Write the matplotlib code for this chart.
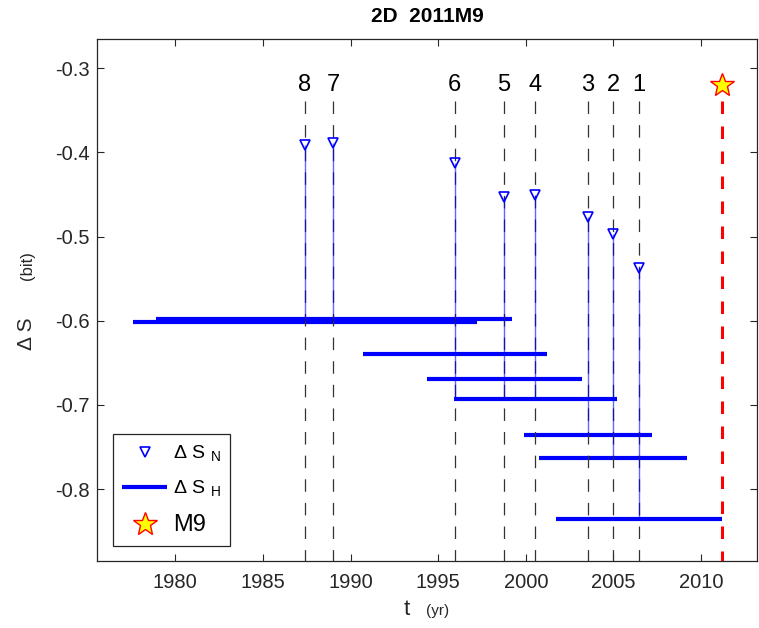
import matplotlib
matplotlib.use('Agg')
import matplotlib.pyplot as plt
from matplotlib.lines import Line2D

plt.rcParams['font.family'] = ['Liberation Sans', 'DejaVu Sans']
plt.rcParams['mathtext.fontset'] = 'custom'
plt.rcParams['mathtext.rm'] = 'Liberation Sans'
plt.rcParams['lines.scale_dashes'] = False

# precursor events, numbered back from the most recent one
event_ids = ['1', '2', '3', '4', '5', '6', '7', '8']
event_t = [2006.45, 2004.98, 2003.55, 2000.55, 1998.76, 1995.94, 1989.01, 1987.40]
dS_N = [-0.537, -0.4967, -0.4762, -0.450, -0.4528, -0.413, -0.389, -0.391]
stem_base = [-0.836, -0.7632, -0.7355, -0.6927, -0.6927, -0.6927, -0.600, -0.600]

# entropy change over the sliding windows
win_start = [1977.60, 1978.88, 1990.73, 1994.34, 1995.92, 1999.92, 2000.77, 2001.71]
win_end = [1997.20, 1999.20, 2001.19, 2003.21, 2005.19, 2007.20, 2009.20, 2011.18]
dS_H = [-0.602, -0.5976, -0.6396, -0.6697, -0.6927, -0.7355, -0.7632, -0.836]

# main shock
m9_t = 2011.20
m9_y = -0.3195

line_top = -0.339
label_y = -0.3202
xmin, xmax = 1975.51, 2013.21
ymin, ymax = -0.885, -0.2652

ink = '#262626'

fig = plt.figure(figsize=(7.59, 6.28), dpi=100)
ax = fig.add_axes([0.1274, 0.1072, 0.8703, 0.8307])

ax.hlines(dS_H, win_start, win_end, color='blue', lw=3, capstyle='butt', zorder=2)

for t in event_t:
    ax.plot([t, t], [line_top, ymin], color='0.2', lw=0.9, ls=(0, (9, 8)), zorder=3)

ax.vlines(event_t, stem_base, dS_N, color='blue', lw=1, alpha=0.6, zorder=4)
ax.plot(event_t, dS_N, 'v', ls='none', mfc='none', mec='blue', ms=7.5, mew=1.2, zorder=5)

for t, lab in zip(event_t, event_ids):
    ax.text(t, label_y, lab, ha='center', va='center', fontsize=17, color='black')

ax.plot([m9_t, m9_t], [line_top, ymin], color='red', lw=2.2, ls=(0, (9, 9)), zorder=3)
ax.plot(m9_t, m9_y, '*', ms=18, mfc='yellow', mec='red', mew=1, zorder=6)

ax.set_xlim(xmin, xmax)
ax.set_ylim(ymin, ymax)
ax.set_xticks([1980, 1985, 1990, 1995, 2000, 2005, 2010])
ax.set_yticks([-0.8, -0.7, -0.6, -0.5, -0.4, -0.3])
ax.set_yticklabels(['-0.8', '-0.7', '-0.6', '-0.5', '-0.4', '-0.3'])
ax.tick_params(direction='in', length=5, width=0.8, colors=ink, labelsize=14.5,
               top=True, right=True)
ax.tick_params(axis='x', pad=9)
ax.tick_params(axis='y', pad=5)
for s in ax.spines.values():
    s.set_color(ink)
    s.set_linewidth(0.9)

ax.set_title('2D  2011M9', fontsize=15, fontweight='bold', color='black', pad=12)

# axis labels with smaller unit text
fig.text(32 / 759, 1 - 334 / 628, 'Δ S', rotation=90, rotation_mode='anchor',
         ha='center', va='baseline', fontsize=15, color=ink)
fig.text(32 / 759, 1 - 266 / 628, '(bit)', rotation=90, rotation_mode='anchor',
         ha='center', va='baseline', fontsize=12, color=ink)
fig.text(407 / 759, 1 - 615 / 628, 't', ha='center', va='baseline',
         fontsize=16, color=ink)
fig.text(438 / 759, 1 - 615 / 628, '(yr)', ha='center', va='baseline',
         fontsize=11, color=ink)

handles = [
    Line2D([], [], marker='v', ls='none', mfc='none', mec='blue', ms=7.5, mew=1.2),
    Line2D([], [], color='blue', lw=3, solid_capstyle='butt'),
    Line2D([], [], marker='*', ls='none', mfc='yellow', mec='red', ms=18, mew=1),
]
labels = ['Δ S $_\\mathregular{N}$', 'Δ S $_\\mathregular{H}$', 'M9']
leg = ax.legend(handles, labels, loc='lower left', bbox_to_anchor=(0.0242, 0.0288),
                borderaxespad=0, fontsize=14, handlelength=2.3, handletextpad=0.3,
                borderpad=0.5, labelspacing=0.75, fancybox=False, framealpha=1,
                edgecolor=ink)
leg.get_frame().set_linewidth(0.9)
leg.get_texts()[2].set_fontsize(17)
for txt in leg.get_texts():
    txt.set_color('black')

fig.savefig('out.png', dpi=100)
